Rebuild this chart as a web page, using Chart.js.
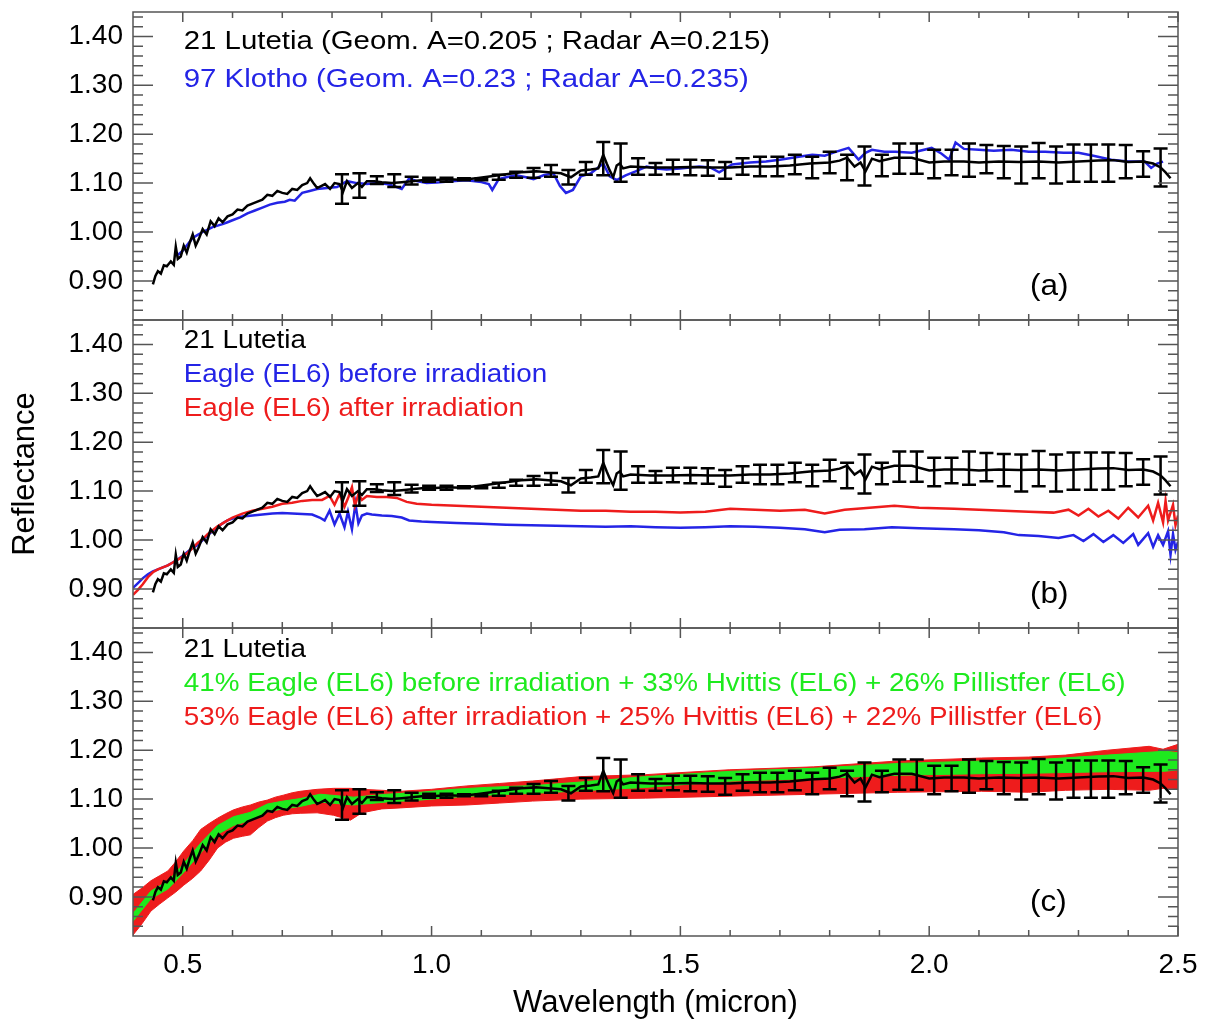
<!DOCTYPE html>
<html>
<head>
<meta charset="utf-8">
<script src="https://cdn.jsdelivr.net/npm/chart.js@4.4.1/dist/chart.umd.min.js"></script>
<style>
  html, body { margin: 0; padding: 0; background: #fff; }
  #wrap { width: 1206px; height: 1028px; }
</style>
</head>
<body>
<div id="wrap"><canvas id="myChart" width="1206" height="1028"></canvas></div>
<script>
// tick values
let xTicks = [0.5, 1.0, 1.5, 2.0, 2.5];
let xMinorTicks = [0.6, 0.7, 0.8, 0.9, 1.1, 1.2, 1.3, 1.4, 1.6, 1.7, 1.8, 1.9, 2.1, 2.2, 2.3, 2.4];
let yTicks = [0.9, 1.0, 1.1, 1.2, 1.3, 1.4];
let yMinorTicks = [0.84, 0.86, 0.88, 0.92, 0.94, 0.96, 0.98, 1.02, 1.04, 1.06, 1.08, 1.12, 1.14, 1.16, 1.18,
                   1.22, 1.24, 1.26, 1.28, 1.32, 1.34, 1.36, 1.38, 1.42, 1.44];

// 21 Lutetia (black, all panels)
let lutetiaWl = [
  0.440,0.445,0.450,0.456,0.462,0.468,0.476,0.482,0.486,0.490,
  0.496,0.502,0.508,0.514,0.520,0.526,0.532,0.540,0.548,0.556,
  0.564,0.572,0.580,0.590,0.600,0.610,0.620,0.630,0.640,0.650,
  0.660,0.670,0.680,0.690,0.700,0.710,0.720,0.730,0.740,0.750,
  0.756,0.764,0.770,0.778,0.786,0.796,0.805,0.815,0.822,0.830,
  0.840,0.852,0.860,0.870,0.885,0.900,0.920,0.940,0.960,0.980,
  1.000,1.030,1.060,1.090,1.120,1.150,1.180,1.210,1.235,1.260,
  1.280,1.300,1.320,1.335,1.345,1.352,1.358,1.365,1.372,1.378,
  1.385,1.400,1.440,1.480,1.520,1.560,1.600,1.640,1.680,1.720,
  1.760,1.800,1.820,1.835,1.850,1.862,1.872,1.885,1.900,1.930,
  1.965,2.000,2.030,2.070,2.100,2.140,2.180,2.220,2.260,2.300,
  2.340,2.370,2.400,2.430,2.450,2.465,2.475,2.485];
let lutetiaRefl = [
  0.893,0.910,0.920,0.915,0.932,0.930,0.940,0.933,0.970,0.945,
  0.950,0.972,0.958,0.978,0.995,0.972,0.985,1.006,0.995,1.022,
  1.012,1.028,1.020,1.032,1.036,1.046,1.044,1.054,1.058,1.062,
  1.066,1.076,1.074,1.084,1.080,1.078,1.088,1.086,1.096,1.100,
  1.110,1.098,1.090,1.094,1.098,1.088,1.100,1.098,1.082,1.104,
  1.090,1.100,1.092,1.104,1.104,1.102,1.100,1.102,1.104,1.106,
  1.106,1.108,1.107,1.110,1.114,1.118,1.122,1.124,1.122,1.120,
  1.112,1.126,1.128,1.130,1.158,1.140,1.126,1.112,1.136,1.140,
  1.130,1.134,1.132,1.132,1.133,1.132,1.132,1.134,1.134,1.136,
  1.140,1.142,1.146,1.152,1.134,1.142,1.124,1.150,1.145,1.152,
  1.152,1.142,1.144,1.144,1.142,1.144,1.143,1.144,1.142,1.144,
  1.146,1.147,1.143,1.144,1.140,1.132,1.122,1.110];

// Lutetia error bars
let errWl = [0.820,0.855,0.890,0.925,0.960,0.995,1.030,1.065,1.100,1.135,1.170,1.205,1.240,1.275,1.310,1.345,
             1.380,1.415,1.450,1.485,1.520,1.555,1.590,1.625,1.660,1.695,1.730,1.765,1.800,1.835,1.870,1.905,
             1.940,1.975,2.010,2.045,2.080,2.115,2.150,2.185,2.220,2.255,2.290,2.325,2.360,2.395,2.430,2.465];
let errRefl = [1.088,1.095,1.106,1.105,1.105,1.107,1.107,1.108,1.108,1.112,1.117,1.121,1.125,1.112,1.130,1.150,
               1.142,1.134,1.129,1.133,1.132,1.131,1.126,1.134,1.134,1.134,1.138,1.132,1.142,1.132,1.135,1.136,
               1.150,1.150,1.139,1.142,1.147,1.149,1.143,1.137,1.146,1.137,1.141,1.141,1.141,1.144,1.139,1.132];
let errSigma = [0.030,0.025,0.008,0.013,0.008,0.004,0.004,0.002,0.002,0.005,0.006,0.010,0.012,0.015,0.013,0.034,
                0.039,0.017,0.012,0.015,0.016,0.016,0.017,0.017,0.020,0.020,0.020,0.022,0.022,0.026,0.040,0.022,
                0.031,0.031,0.029,0.026,0.034,0.029,0.033,0.038,0.036,0.038,0.038,0.038,0.038,0.034,0.026,0.039];

// 97 Klotho (blue, panel a)
let klothoWl = [
  0.490,0.500,0.510,0.520,0.530,0.540,0.550,0.560,0.570,0.580,
  0.590,0.600,0.615,0.630,0.645,0.660,0.675,0.690,0.705,0.715,
  0.725,0.740,0.755,0.770,0.790,0.810,0.830,0.850,0.870,0.890,
  0.910,0.930,0.940,0.955,0.970,0.990,1.010,1.040,1.070,1.100,
  1.115,1.122,1.135,1.150,1.170,1.190,1.205,1.225,1.245,1.258,
  1.270,1.284,1.300,1.320,1.345,1.358,1.372,1.390,1.410,1.432,
  1.452,1.472,1.500,1.538,1.560,1.578,1.604,1.640,1.672,1.700,
  1.738,1.765,1.790,1.812,1.838,1.858,1.872,1.885,1.910,1.932,
  1.965,2.005,2.025,2.040,2.053,2.070,2.100,2.130,2.165,2.200,
  2.233,2.270,2.300,2.330,2.366,2.400,2.433,2.446,2.458,2.470];
let klothoRefl = [
  0.953,0.962,0.975,0.988,0.994,1.000,1.005,1.010,1.013,1.016,
  1.020,1.024,1.030,1.038,1.044,1.050,1.056,1.060,1.062,1.066,
  1.064,1.080,1.084,1.088,1.090,1.092,1.104,1.100,1.098,1.100,
  1.098,1.092,1.088,1.110,1.104,1.100,1.101,1.104,1.106,1.102,
  1.098,1.086,1.108,1.112,1.116,1.112,1.108,1.116,1.120,1.094,
  1.080,1.086,1.114,1.120,1.140,1.114,1.106,1.116,1.124,1.134,
  1.130,1.128,1.130,1.134,1.132,1.122,1.138,1.142,1.144,1.148,
  1.154,1.158,1.156,1.164,1.172,1.148,1.162,1.168,1.164,1.164,
  1.162,1.172,1.160,1.148,1.183,1.170,1.168,1.166,1.168,1.164,
  1.164,1.162,1.162,1.156,1.148,1.144,1.144,1.131,1.140,1.144];

// Eagle (EL6) before irradiation (blue, panel b)
let eagleBeforeWl = [
  0.400,0.410,0.420,0.430,0.440,0.450,0.460,0.470,0.480,0.490,
  0.500,0.510,0.520,0.530,0.540,0.550,0.560,0.570,0.580,0.590,
  0.600,0.610,0.620,0.640,0.660,0.680,0.700,0.720,0.740,0.760,
  0.775,0.785,0.795,0.805,0.815,0.825,0.832,0.840,0.847,0.853,
  0.860,0.870,0.880,0.900,0.920,0.940,0.955,0.980,1.000,1.050,
  1.100,1.150,1.200,1.250,1.300,1.350,1.400,1.450,1.500,1.550,
  1.600,1.650,1.700,1.750,1.790,1.820,1.870,1.925,1.980,2.050,
  2.100,2.150,2.180,2.220,2.260,2.290,2.310,2.330,2.350,2.370,
  2.390,2.410,2.420,2.440,2.450,2.460,2.470,2.480,2.485,2.490,
  2.495,2.500];
let eagleBeforeRefl = [
  0.902,0.912,0.922,0.930,0.936,0.940,0.944,0.948,0.954,0.960,
  0.968,0.976,0.984,0.990,1.000,1.010,1.018,1.026,1.034,1.040,
  1.044,1.046,1.048,1.050,1.052,1.054,1.055,1.054,1.053,1.052,
  1.046,1.040,1.060,1.032,1.054,1.026,1.058,1.022,1.074,1.034,
  1.050,1.054,1.052,1.050,1.049,1.046,1.040,1.038,1.037,1.035,
  1.033,1.031,1.030,1.029,1.028,1.027,1.028,1.026,1.025,1.026,
  1.028,1.027,1.025,1.022,1.016,1.021,1.022,1.026,1.024,1.022,
  1.020,1.016,1.010,1.008,1.004,1.010,0.998,1.012,0.996,1.010,
  0.994,1.012,0.990,1.014,0.986,1.010,0.990,1.018,0.970,1.012,
  0.980,0.996];

// Eagle (EL6) after irradiation (red, panel b)
let eagleAfterWl = [
  0.400,0.410,0.420,0.430,0.440,0.450,0.460,0.470,0.480,0.490,
  0.500,0.510,0.520,0.530,0.540,0.550,0.560,0.570,0.580,0.590,
  0.600,0.620,0.640,0.660,0.680,0.700,0.720,0.740,0.760,0.780,
  0.795,0.805,0.815,0.825,0.833,0.840,0.846,0.853,0.860,0.870,
  0.890,0.910,0.930,0.950,0.970,1.000,1.050,1.100,1.150,1.200,
  1.250,1.300,1.350,1.400,1.450,1.500,1.550,1.600,1.650,1.700,
  1.750,1.790,1.830,1.880,1.930,1.980,2.050,2.100,2.150,2.200,
  2.250,2.280,2.300,2.320,2.340,2.360,2.380,2.400,2.420,2.440,
  2.450,2.460,2.470,2.475,2.480,2.490,2.495,2.500];
let eagleAfterRefl = [
  0.888,0.898,0.910,0.924,0.934,0.940,0.944,0.948,0.954,0.960,
  0.966,0.974,0.984,0.994,1.002,1.012,1.020,1.028,1.034,1.040,
  1.046,1.054,1.060,1.064,1.068,1.074,1.076,1.080,1.082,1.082,
  1.090,1.072,1.094,1.068,1.088,1.108,1.070,1.094,1.082,1.090,
  1.088,1.088,1.086,1.078,1.074,1.072,1.070,1.068,1.066,1.064,
  1.062,1.060,1.060,1.058,1.058,1.056,1.058,1.064,1.062,1.060,
  1.062,1.054,1.062,1.066,1.070,1.066,1.064,1.062,1.060,1.058,
  1.056,1.062,1.050,1.064,1.048,1.060,1.044,1.066,1.046,1.070,
  1.040,1.076,1.036,1.080,1.040,1.072,1.030,1.050];

// 53% mixture after irradiation (red band, panel c)
let mixAfterWl = [
  0.400,0.418,0.436,0.453,0.470,0.486,0.502,0.520,0.536,0.553,
  0.570,0.586,0.602,0.620,0.636,0.653,0.670,0.686,0.702,0.720,
  0.736,0.770,0.803,0.837,0.860,0.900,0.937,1.000,1.071,1.137,
  1.203,1.300,1.430,1.598,1.768,1.937,2.105,2.200,2.274,2.358,
  2.442,2.470,2.500];
let mixAfterLo = [
  0.822,0.845,0.871,0.885,0.898,0.910,0.924,0.938,0.953,0.975,
  1.000,1.012,1.020,1.024,1.027,1.042,1.055,1.062,1.067,1.070,
  1.071,1.072,1.067,1.057,1.072,1.080,1.082,1.086,1.088,1.092,
  1.096,1.100,1.102,1.106,1.110,1.114,1.116,1.114,1.118,1.120,
  1.118,1.122,1.120];
let mixAfterHi = [
  0.905,0.918,0.933,0.943,0.953,0.972,0.994,1.015,1.038,1.050,
  1.061,1.070,1.078,1.084,1.088,1.094,1.098,1.104,1.108,1.113,
  1.116,1.120,1.122,1.122,1.120,1.118,1.116,1.120,1.127,1.132,
  1.137,1.146,1.150,1.160,1.166,1.178,1.184,1.186,1.190,1.200,
  1.208,1.202,1.212];

// 41% mixture before irradiation (green band, panel c)
let mixBeforeWl = [
  0.400,0.436,0.470,0.502,0.536,0.570,0.602,0.636,0.670,0.702,
  0.736,0.776,0.843,0.910,0.977,1.043,1.110,1.210,1.300,1.430,
  1.604,1.768,1.939,2.105,2.206,2.358,2.474,2.500];
let mixBeforeLo = [
  0.850,0.896,0.916,0.950,0.990,1.028,1.046,1.057,1.074,1.080,
  1.085,1.094,1.088,1.094,1.098,1.104,1.108,1.112,1.117,1.124,
  1.137,1.142,1.149,1.152,1.153,1.156,1.157,1.160];
let mixBeforeHi = [
  0.866,0.912,0.932,0.968,1.010,1.046,1.064,1.073,1.090,1.096,
  1.101,1.110,1.104,1.110,1.114,1.120,1.124,1.128,1.135,1.146,
  1.157,1.163,1.173,1.178,1.180,1.190,1.198,1.195];

let BLACK = "#000000";
let BLUE = "#2424e6";
let RED = "#ee1c1c";
let GREEN = "#1eea1e";
let FONT = "'Liberation Sans', Arial, sans-serif";

let panelIds = ["yA", "yB", "yC"];
let panelLetters = ["(a)", "(b)", "(c)"];
let panelNotes = [
  ["21 Lutetia (Geom. A=0.205 ; Radar A=0.215)", "97 Klotho (Geom. A=0.23 ; Radar A=0.235)"],
  ["21 Lutetia", "Eagle (EL6) before irradiation", "Eagle (EL6) after irradiation"],
  ["21 Lutetia", "41% Eagle (EL6) before irradiation + 33% Hvittis (EL6) + 26% Pillistfer (EL6)",
   "53% Eagle (EL6) after irradiation + 25% Hvittis (EL6) + 22% Pillistfer (EL6)"]
];
let panelNoteColors = [
  [BLACK, BLUE],
  [BLACK, BLUE, RED],
  [BLACK, GREEN, RED]
];

function puntos(xs, ys) {
  return xs.map((x, i) => ({ x: x, y: ys[i] }));
}

function linea(xs, ys, color, eje, orden) {
  return {
    data: puntos(xs, ys),
    yAxisID: eje,
    borderColor: color,
    borderWidth: 2.5,
    pointRadius: 0,
    fill: false,
    order: orden
  };
}

function banda(xs, lo, hi, color, eje, orden) {
  return [
    { data: puntos(xs, lo), yAxisID: eje, borderColor: color, borderWidth: 1, pointRadius: 0, fill: false, order: orden },
    { data: puntos(xs, hi), yAxisID: eje, borderColor: color, borderWidth: 1, pointRadius: 0, fill: "-1",
      backgroundColor: color, order: orden }
  ];
}

let datasets = [
  linea(lutetiaWl, lutetiaRefl, BLACK, "yA", 0),
  linea(klothoWl, klothoRefl, BLUE, "yA", 1),
  linea(lutetiaWl, lutetiaRefl, BLACK, "yB", 0),
  linea(eagleBeforeWl, eagleBeforeRefl, BLUE, "yB", 2),
  linea(eagleAfterWl, eagleAfterRefl, RED, "yB", 1),
  linea(lutetiaWl, lutetiaRefl, BLACK, "yC", 0),
  ...banda(mixAfterWl, mixAfterLo, mixAfterHi, RED, "yC", 3),
  ...banda(mixBeforeWl, mixBeforeLo, mixBeforeHi, GREEN, "yC", 2)
];

function ejeY(peso, titulo) {
  return {
    type: "linear",
    position: "left",
    stack: "paneles",
    stackWeight: 1,
    weight: peso,
    min: 0.82,
    max: 1.45,
    afterBuildTicks: s => { s.ticks = yTicks.map(v => ({ value: v })); },
    afterFit: s => { s.width = 133; s.paddingTop = 0; s.paddingBottom = 0; },
    grid: { display: false, drawTicks: false },
    border: { display: false },
    ticks: { color: "#000", font: { size: 28, family: FONT }, padding: 10, autoSkip: false, callback: v => v.toFixed(2) },
    title: { display: titulo !== "", text: titulo, color: "#000", font: { size: 31, family: FONT }, padding: { top: 7, bottom: 0 } }
  };
}

let marcos = {
  id: "marcos",
  afterDatasetsDraw(chart) {
    let ctx = chart.ctx;
    let xs = chart.scales.x;
    ctx.save();
    ctx.strokeStyle = BLACK;
    ctx.lineWidth = 2.5;
    for (const id of panelIds) {
      let ys = chart.scales[id];
      errWl.forEach((w, i) => {
        let px = xs.getPixelForValue(w);
        let arriba = ys.getPixelForValue(errRefl[i] + errSigma[i]);
        let abajo = ys.getPixelForValue(errRefl[i] - errSigma[i]);
        ctx.beginPath();
        ctx.moveTo(px, arriba); ctx.lineTo(px, abajo);
        ctx.moveTo(px - 7, arriba); ctx.lineTo(px + 7, arriba);
        ctx.moveTo(px - 7, abajo); ctx.lineTo(px + 7, abajo);
        ctx.stroke();
      });
    }
    ctx.restore();
  },
  afterDraw(chart) {
    let ctx = chart.ctx;
    let xs = chart.scales.x;
    let area = chart.chartArea;
    ctx.save();
    ctx.strokeStyle = "#555";
    ctx.lineWidth = 1.5;
    panelIds.forEach((id, p) => {
      let ys = chart.scales[id];
      ctx.strokeRect(area.left, ys.top, area.right - area.left, ys.bottom - ys.top);
      ctx.beginPath();
      let marcasY = (vals, largo) => {
        for (const v of vals) {
          let py = ys.getPixelForValue(v);
          ctx.moveTo(area.left, py); ctx.lineTo(area.left + largo, py);
          ctx.moveTo(area.right, py); ctx.lineTo(area.right - largo, py);
        }
      };
      let marcasX = (vals, largo) => {
        for (const v of vals) {
          let px = xs.getPixelForValue(v);
          ctx.moveTo(px, ys.bottom); ctx.lineTo(px, ys.bottom - largo);
          ctx.moveTo(px, ys.top); ctx.lineTo(px, ys.top + largo);
        }
      };
      marcasY(yTicks, 20);
      marcasY(yMinorTicks, 10);
      marcasX(xTicks, 10);
      marcasX(xMinorTicks, 6);
      ctx.stroke();

      // notes
      let inicio = p === 0 ? 30 : (p === 1 ? 21 : 22);
      let paso = p === 0 ? 38 : 34;
      let estirar = p === 0 ? 1.13 : 1.07;
      ctx.textBaseline = "middle";
      ctx.textAlign = "left";
      ctx.font = "26px " + FONT;
      panelNotes[p].forEach((txt, k) => {
        ctx.save();
        ctx.fillStyle = panelNoteColors[p][k];
        ctx.translate(xs.getPixelForValue(0.5) + 1, ys.top + inicio + paso * k);
        ctx.scale(estirar, 1);
        ctx.fillText(txt, 0, 0);
        ctx.restore();
      });
      ctx.save();
      ctx.fillStyle = BLACK;
      ctx.font = "30px " + FONT;
      ctx.translate(1030, ys.top + 275);
      ctx.scale(1.05, 1);
      ctx.fillText(panelLetters[p], 0, 0);
      ctx.restore();
    });
    ctx.restore();
  }
};

let myChart = document.querySelector("#myChart");

let grafico = new Chart(myChart, {
  type: "line",
  data: { datasets },
  options: {
    responsive: false,
    animation: false,
    devicePixelRatio: 1,
    layout: { padding: { left: 0, right: 28, top: 12, bottom: 0 } },
    plugins: { legend: { display: false }, tooltip: { enabled: false } },
    elements: { line: { tension: 0 } },
    scales: {
      x: {
        type: "linear",
        min: 0.4,
        max: 2.5,
        afterBuildTicks: s => { s.ticks = xTicks.map(v => ({ value: v })); },
        afterFit: s => { s.height = 92; s.paddingLeft = 0; s.paddingRight = 0; },
        grid: { display: false, drawTicks: false },
        border: { display: false },
        ticks: { color: "#000", font: { size: 28, family: FONT }, padding: 12, maxRotation: 0, autoSkip: false, callback: v => v.toFixed(1) },
        title: { display: true, text: "Wavelength (micron)", color: "#000", font: { size: 31, family: FONT }, padding: { top: 4, bottom: 6 } }
      },
      yA: ejeY(3, ""),
      yB: ejeY(2, "Reflectance"),
      yC: ejeY(1, "")
    }
  },
  plugins: [marcos]
});
</script>
</body>
</html>
